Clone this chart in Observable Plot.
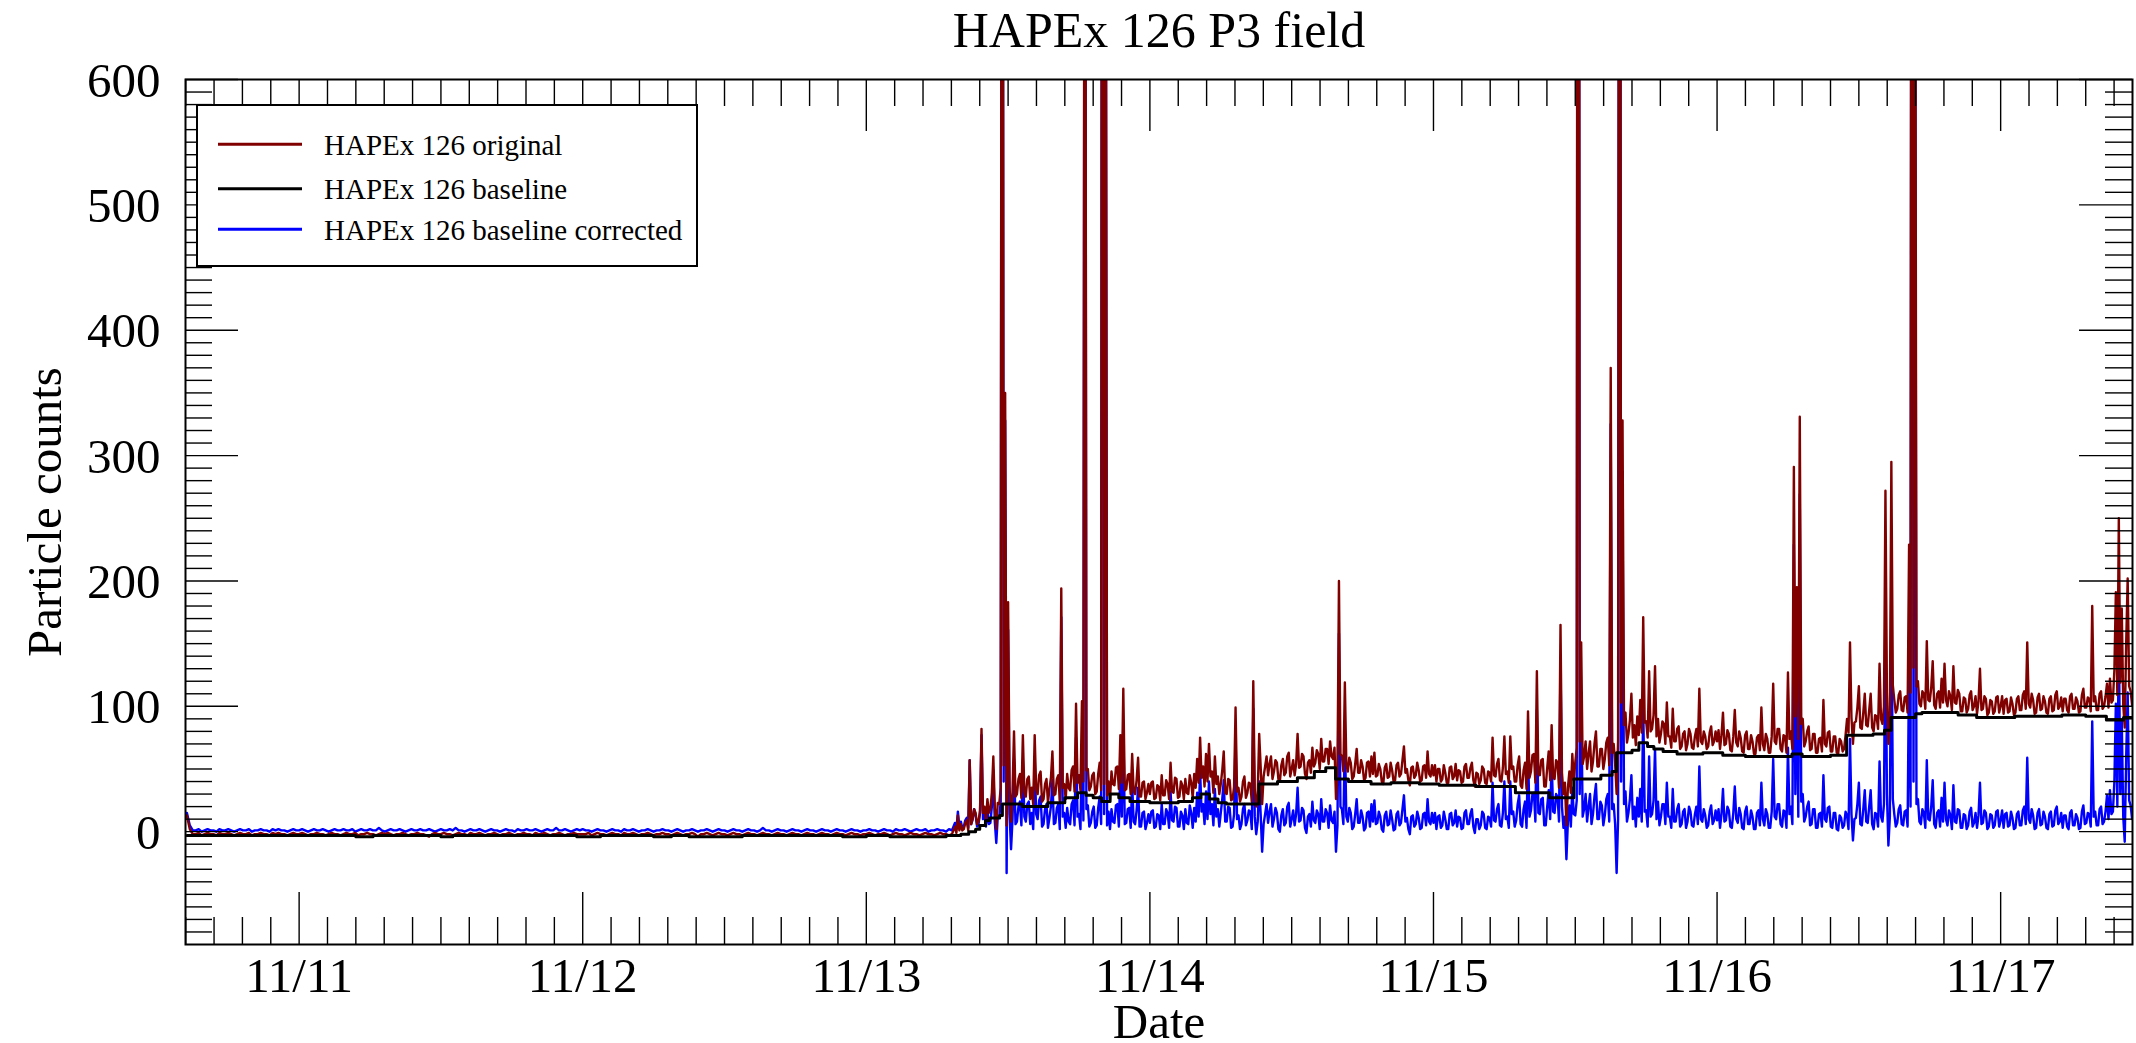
<!DOCTYPE html>
<html>
<head>
<meta charset="utf-8">
<script src="https://cdn.jsdelivr.net/npm/d3@7"></script>
<script src="https://cdn.jsdelivr.net/npm/@observablehq/plot@0.6"></script>
<style>
  html, body { margin: 0; padding: 0; background: #fff; }
  #wrap { position: relative; width: 2136px; height: 1043px; overflow: hidden; }
  #legend { position: absolute; left: 196px; top: 104px; }
</style>
</head>
<body>
<div id="wrap"><div id="chart"></div></div>
<script>
// ---------------- DATA ----------------
// Each segment: start time, sampling step (minutes), values.
const segStarts = [
  "2023-11-10T14:30:00Z", "2023-11-11T00:00:00Z", "2023-11-12T00:00:00Z", "2023-11-13T00:00:00Z",
  "2023-11-13T07:30:00Z", "2023-11-14T00:00:00Z", "2023-11-15T00:00:00Z", "2023-11-16T00:00:00Z",
  "2023-11-17T00:00:00Z"
];
const segStepMinutes = [15, 15, 15, 15, 7.5, 7.5, 7.5, 7.5, 7.5];

// HAPEx 126 original
const original_1110 = [13,2,-2,-2,-1,-3,-2,-1,-2,-2,-3,-1,-2,-2,-1,-2,-3,-2,-1,-2,-2,-1,-3,-2,-2,-1,-2,-2,-3,-1,-2,-1,-2,-2,-3,-2,-1,-2];
const original_1111 = [
  -2,-1,-2,-3,-2,-2,-1,-2, -2,-3,-2,-1,-2,-2,-3,-2, -1,-2,-2,-1,-3,-2,-2,-1, -2,-2,-3,-2,-1,-2,-1,-2,
  -3,-2,-2,-1,-2,-3,-2,-2, -1,-2,-2,-3,-4,-2,-1,-2, -2,-1,-2,-2,-3,-2,-1,-2, -2,-3,-1,-2,-2,-1,-2,-3,
  -2,-2,-1,-2,-3,-2,-2,-1, -2,-3,-2,-2,-1,-2,-2,-3, -1,-2,-2,-1,-2,-3,-2,-2, -1,-2,-3,-2,-2,-1,-2,-2];
const original_1112 = [
  -2,-2,-1,-3,-2,-1,-2,-2, -3,-2,-1,-2,-2,-3,-1,-2, -2,-1,-2,-3,-2,-2,-1,-2, -3,-2,-2,-1,-2,-2,-3,-2,
  -1,-2,-3,-2,-2,-1,-2,-4, -2,-2,-1,-2,-3,-2,-1,-2, -2,-3,-2,-1,-2,-2,-3,-2, -1,-2,-2,-3,-2,-1,-2,-2,
  -3,-2,-1,-2,-2,-3,-2,-1, -2,-2,-3,-2,-1,-2,-2,-3, -2,-1,-2,-2,-3,-2,-1,-2, -2,-3,-2,-1,-2,-2,-3,-2];
const original_1113_night = [
  -2,-1,-2,-3,-2,-2,-1,-2, -3,-2,-1,-2,-2,-3,-2,-1, -2,-2,-3,-2,-1,-2,-2,-3, -2,-1,-2,-2,-3,-2];
const original_1113_day = [
  4,-1, 13,1, 6,1, 2,7, 9,1, 57,6, 10,18, 15,6, 8,17, 82,15,
  20,9, 26,15, 18,31, 60,19, 2,23, 22,35, 1503,53, 350,5, 183,36, 8,32,
  80,28, 30,42, 46,27, 77,32, 28,42, 44,26, 35,22, 77,34, 30,45, 48,24,
  26,38, 42,23, 34,43, 64,29, 30,42, 45,25, 194,35, 38,26, 46,35, 33,49,
  52,32, 102,39, 45,33, 104,40, 1201,49, 50,33, 36,45, 47,30, 32,46, 55,33,
  1804,38, 904,29, 40,26, 48,38, 37,51, 52,34, 77,39, 114,33, 34,45, 46,30,
  62,32, 30,41, 59,28, 28,39, 40,26, 31,38];
const original_1114 = [
  30,39, 40,26, 27,37, 36,25, 45,29, 29,41, 38,26, 55,32, 31,43, 42,27,
  28,40, 37,26, 42,31, 30,45, 39,27, 46,35, 58,39, 75,43, 52,36, 62,40,
  70,44, 48,31, 60,38, 44,30, 38,49, 64,31, 30,42, 41,25, 26,36, 99,32,
  35,24, 28,40, 44,27, 31,39, 38,24, 120,34, 20,30, 78,52, 22,44, 52,60,
  45,54, 60,42, 48,57, 55,42, 40,53, 58,45, 47,60, 63,44, 50,57, 45,54,
  78,51, 52,62, 60,46, 42,55, 57,47, 67,52, 55,65, 62,50, 74,56, 56,66,
  66,54, 72,60, 58,67, 26,47, 200,62, 60,48, 119,54, 48,59, 55,42, 44,54,
  66,47, 47,57, 52,41, 43,55, 56,44, 60,46, 63,44, 45,54, 50,40, 38,51,
  54,43, 44,55, 49,40, 41,53, 55,44, 46,57, 68,47, 50,41, 37,51, 52,43,
  45,55, 49,40, 41,52, 53,43, 64,46, 44,53];
const original_1115 = [
  45,53, 40,50, 50,40, 42,53, 47,39, 39,51, 52,42, 44,54, 41,49, 48,39,
  40,52, 54,43, 43,51, 55,41, 36,47, 46,38, 41,52, 50,39, 38,48, 47,40,
  75,45, 44,54, 58,41, 40,51, 76,46, 48,39, 76,50, 52,40, 40,53, 60,37,
  35,49, 55,34, 96,43, 48,61, 62,39, 128,46, 45,57, 58,36, 36,51, 64,41,
  85,43, 42,57, 55,35, 165,47, 30,39, 5,35, 48,31, 62,41, 55,67, 1992,72,
  151,54, 60,72, 50,62, 72,48, 56,70, 80,52, 52,66, 66,50, 58,71, 75,53,
  370,63, 70,54, 30,73, 1603,103, 328,85, 95,71, 78,89, 110,75, 85,69, 92,77,
  105,79, 171,87, 88,75, 128,80, 82,93, 132,76, 90,71, 78,88, 86,70, 103,76,
  76,67, 98,72, 72,82, 84,66, 68,78, 80,65, 70,82, 78,67, 66,76, 82,68,
  114,72, 70,80, 76,66, 68,79, 84,69, 72,80];
const original_1116 = [
  72,81, 66,77, 95,69, 70,81, 78,65, 64,76, 97,71, 68,80, 75,64, 63,77,
  80,66, 66,77, 72,62, 62,75, 77,65, 99,70, 65,78, 74,63, 63,76, 118,72,
  70,82, 82,66, 64,77, 76,63, 127,74, 80,66, 291,92, 195,74, 331,86, 90,68,
  72,80, 84,65, 66,78, 78,63, 63,74, 75,64, 105,70, 68,79, 80,64, 64,76,
  76,63, 62,74, 72,64, 66,77, 90,79, 151,91, 70,87, 88,99, 116,83, 82,95,
  110,85, 84,97, 110,83, 80,93, 92,82, 134,90, 86,100, 272,111, 70,93, 295,117,
  105,95, 98,109, 112,97, 96,107, 108,95, 229,111, 1691,131, 900,116, 120,102, 100,112,
  110,98, 152,105, 104,115, 136,101, 98,110, 112,99, 122,103, 134,105, 100,112, 108,97,
  132,103, 102,113, 110,96, 96,107, 106,95, 98,109, 112,97, 100,108, 94,104, 130,97,
  98,108, 106,93, 95,105, 104,94, 96,107, 108,95];
const original_1117 = [
  100,108, 94,105, 106,95, 96,107, 102,93, 95,106, 108,97, 97,109, 112,98, 151,102,
  99,110, 105,94, 95,107, 110,97, 98,108, 104,95, 94,106, 108,96, 97,109, 112,98,
  100,107, 96,106, 106,97, 95,108, 110,98, 98,107, 104,95, 96,109, 114,99, 99,107,
  106,96, 180,104, 108,97, 97,110, 112,98, 100,108, 118,99, 122,103, 105,129, 191,109,
  250,119, 178,101, 83,151, 202,116, 112,101];

// HAPEx 126 baseline corrected
const corrected_1110 = [15,5,1,1,2,0,1,2,1,1,0,2,1,1,2,1,0,1,2,1,1,2,0,1,1,2,1,1,0,2,1,2,1,1,0,1,2,1];
const corrected_1111 = [
  1,2,1,0,1,2,1,1, 2,1,0,1,2,1,1,2, 1,1,2,0,1,2,1,1, 2,1,1,3,1,0,1,2,
  1,1,2,1,0,1,2,1, 1,2,1,1,2,1,0,1, 2,1,1,2,1,3,1,1, 0,1,2,1,1,2,1,0,
  1,2,1,1,0,1,2,1, 1,0,2,1,1,2,1,1, 2,1,0,1,2,1,1,3, 1,1,2,1,0,1,2,1];
const corrected_1112 = [
  2,1,1,0,1,2,1,1, 0,1,2,1,1,0,2,1, 1,2,1,0,1,1,2,1, 0,1,1,2,1,1,0,1,
  2,1,0,1,1,2,1,0, 1,1,2,1,0,1,2,1, 1,0,1,2,1,1,0,1, 2,1,1,0,1,3,1,1,
  0,1,2,1,1,0,1,2, 1,1,0,1,2,1,1,0, 1,2,1,1,0,1,2,1, 1,0,1,2,1,1,0,1];
const corrected_1113_night = [
  1,2,1,1,0,1,2,1, 1,0,2,1,1,2,1,0, 1,2,1,1,2,0,1,1, 2,1,1,0,2,1];
const corrected_1113_day = [
  7,2, 16,4, 8,3, 4,9, 11,3, 57,6, 10,18, 13,4, 6,15, 77,10,
  15,4, 17,6, 7,20, 49,8, -9,12, 11,24, 1490,40, 328,-33, 161,14, -14,10,
  58,6, 8,20, 24,5, 57,12, 8,22, 24,6, 15,2, 57,14, 10,25, 28,4,
  6,18, 22,3, 11,20, 41,6, 7,19, 22,2, 171,12, 15,3, 19,8, 6,22,
  25,5, 75,12, 14,2, 73,9, 1170,18, 21,4, 7,16, 20,3, 5,19, 28,6,
  1780,14, 880,5, 16,2, 18,8, 7,21, 22,4, 50,12, 87,6, 7,18, 19,3,
  38,8, 6,17, 35,4, 4,15, 16,2, 7,14];
const corrected_1114 = [
  7,16, 17,3, 4,14, 13,2, 22,6, 6,18, 15,3, 32,9, 8,20, 19,4,
  4,16, 13,2, 18,7, 6,21, 15,3, 19,8, 31,12, 48,16, 22,6, 32,10,
  40,14, 22,5, 34,12, 18,4, 15,26, 41,8, 8,20, 19,3, 4,14, 77,10,
  13,2, 6,18, 22,5, 9,17, 16,2, 98,12, -2,8, 40,14, -16,6, 14,22,
  7,16, 22,4, 10,19, 15,2, 0,13, 18,5, 7,20, 23,4, 10,17, 5,14,
  35,8, 9,19, 17,3, -1,12, 14,4, 24,9, 7,17, 14,2, 26,8, 8,18,
  15,3, 21,9, 7,16, -16,5, 158,20, 18,6, 77,12, 8,19, 15,2, 4,14,
  26,7, 7,17, 12,1, 3,15, 16,4, 22,8, 25,6, 7,16, 12,2, 0,13,
  16,5, 6,17, 10,1, 2,14, 16,5, 7,18, 29,8, 11,2, -2,12, 13,4,
  6,16, 11,2, 3,14, 15,5, 26,8, 6,15];
const corrected_1115 = [
  7,15, 2,12, 13,3, 5,16, 10,2, 2,14, 15,5, 7,17, 4,12, 11,2,
  3,15, 17,6, 6,14, 18,4, -1,10, 10,2, 5,16, 14,3, 2,12, 11,4,
  39,9, 8,18, 22,5, 4,15, 40,10, 12,3, 40,14, 16,4, 9,22, 29,6,
  4,18, 24,3, 65,12, 17,30, 31,8, 97,15, 14,26, 27,5, 5,20, 33,10,
  58,16, 15,30, 28,8, 138,20, 3,12, -22,8, 21,4, 35,14, 13,25, 1950,30,
  109,12, 18,30, 8,20, 30,6, 14,28, 38,10, 10,24, 21,5, 13,26, 30,8,
  325,18, 22,6, -33,10, 1540,40, 265,22, 32,8, 15,26, 45,10, 20,4, 27,12,
  34,8, 100,16, 17,4, 60,12, 14,25, 66,10, 24,5, 12,22, 22,6, 39,12,
  12,3, 34,8, 8,18, 22,4, 6,16, 18,3, 8,20, 16,5, 4,14, 20,6,
  52,10, 8,18, 13,3, 5,16, 21,6, 9,17];
const corrected_1116 = [
  9,18, 3,14, 34,8, 9,20, 17,4, 3,15, 36,10, 7,19, 14,3, 2,16,
  20,6, 6,17, 12,2, 2,15, 17,5, 39,10, 5,18, 14,3, 3,16, 58,12,
  10,22, 22,6, 4,17, 16,3, 67,14, 20,6, 229,30, 133,12, 269,24, 30,8,
  12,20, 24,5, 6,18, 18,3, 3,14, 15,4, 45,10, 8,19, 20,4, 3,15,
  15,2, 1,13, 11,3, 5,16, 13,2, 74,14, -7,10, 11,22, 39,6, 5,18,
  33,8, 7,20, 33,6, 2,15, 14,4, 56,12, 8,22, 191,30, -11,12, 204,26,
  14,4, 7,18, 21,6, 5,16, 17,4, 138,20, 1600,40, 806,22, 26,8, 6,18,
  15,3, 57,10, 9,20, 41,6, 3,15, 17,4, 27,8, 39,10, 5,17, 13,2,
  37,8, 7,18, 17,3, 3,14, 13,2, 5,16, 19,4, 7,15, 3,13, 39,6,
  7,17, 15,2, 4,14, 13,3, 5,16, 17,4];
const corrected_1117 = [
  9,17, 3,14, 15,4, 5,16, 11,2, 3,14, 16,5, 5,17, 20,6, 59,10,
  7,18, 13,2, 3,15, 18,5, 6,16, 12,3, 2,14, 16,4, 5,17, 20,6,
  8,15, 3,13, 13,4, 2,15, 17,5, 5,14, 11,2, 3,16, 21,6, 7,15,
  14,4, 88,12, 16,5, 5,18, 20,6, 8,16, 29,10, 33,14, 16,40, 102,20,
  161,30, 89,12, -8,60, 111,25, 21,10];

// HAPEx 126 baseline (step changes)
const baselineTimes = [
  "2023-11-10T14:30","2023-11-11T04:48","2023-11-11T06:15","2023-11-11T12:00","2023-11-11T13:00",
  "2023-11-11T23:30","2023-11-12T01:30","2023-11-12T06:00","2023-11-12T07:30","2023-11-12T09:00",
  "2023-11-12T13:30","2023-11-12T22:00","2023-11-13T00:00","2023-11-13T02:00","2023-11-13T06:45",
  "2023-11-13T08:00","2023-11-13T08:40","2023-11-13T09:15","2023-11-13T09:36","2023-11-13T10:05",
  "2023-11-13T10:26","2023-11-13T11:17","2023-11-13T11:31","2023-11-13T13:12","2023-11-13T15:22",
  "2023-11-13T16:48","2023-11-13T17:53","2023-11-13T18:36","2023-11-13T19:12","2023-11-13T19:55",
  "2023-11-13T20:38","2023-11-13T21:22","2023-11-13T22:19","2023-11-14T00:00","2023-11-14T02:24",
  "2023-11-14T03:36","2023-11-14T04:19","2023-11-14T05:02","2023-11-14T05:46","2023-11-14T06:29",
  "2023-11-14T09:14","2023-11-14T10:48","2023-11-14T12:29","2023-11-14T13:55","2023-11-14T14:53",
  "2023-11-14T15:43","2023-11-14T16:48","2023-11-14T18:43","2023-11-14T20:24","2023-11-14T22:48",
  "2023-11-15T00:29","2023-11-15T03:36","2023-11-15T06:56","2023-11-15T09:50","2023-11-15T11:53",
  "2023-11-15T14:10","2023-11-15T15:07","2023-11-15T15:29","2023-11-15T16:48","2023-11-15T17:23",
  "2023-11-15T18:07","2023-11-15T18:39","2023-11-15T19:26","2023-11-15T20:37","2023-11-15T22:48",
  "2023-11-16T00:29","2023-11-16T02:24","2023-11-16T06:20","2023-11-16T07:12","2023-11-16T09:36",
  "2023-11-16T10:58","2023-11-16T13:12","2023-11-16T14:10","2023-11-16T14:44","2023-11-16T16:48",
  "2023-11-16T17:20","2023-11-16T20:24","2023-11-16T21:58","2023-11-17T01:12","2023-11-17T05:11",
  "2023-11-17T07:12","2023-11-17T08:57","2023-11-17T10:24","2023-11-17T11:08"
];
const baselineValues = [
  -3,-4,-3,-4,-3,
  -4,-3,-4,-3,-4,
  -3,-4,-3,-4,-3,
  -2,0,2,5,9,
  11,13,22,20,23,
  27,31,29,27,24,
  30,27,24,23,24,
  27,30,26,23,22,
  38,40,43,48,51,
  42,40,38,39,38,
  37,36,31,27,42,
  45,48,63,65,71,
  68,66,64,62,63,
  61,60,62,60,61,
  77,78,81,91,94,
  95,93,91,92,93,
  92,89,91,91
];

const seriesNames = ["HAPEx 126 original", "HAPEx 126 baseline", "HAPEx 126 baseline corrected"];
const seriesColors = ["#800000", "#000000", "#0000ff"];
const yMajorTicks = [0, 100, 200, 300, 400, 500, 600];
const xTickFormat = "%m/%d";

// ---------------- BUILD TABLES ----------------
const originalSegs = [original_1110, original_1111, original_1112, original_1113_night, original_1113_day, original_1114, original_1115, original_1116, original_1117];
const correctedSegs = [corrected_1110, corrected_1111, corrected_1112, corrected_1113_night, corrected_1113_day, corrected_1114, corrected_1115, corrected_1116, corrected_1117];
const rows = [];
segStarts.forEach((s, i) => {
  const t0 = new Date(s).getTime();
  const step = segStepMinutes[i] * 60000;
  const o = originalSegs[i], c = correctedSegs[i];
  if (o.length !== c.length) console.error("length mismatch segment", i, o.length, c.length);
  o.forEach((v, k) => rows.push({date: new Date(t0 + k * step), original: v, corrected: c[k]}));
});
const baseline = baselineTimes.map((t, i) => ({date: new Date(t + ":00Z"), value: baselineValues[i]}));

// ---------------- LAYOUT ----------------
const W = 2136, H = 1043, mL = 185, mR = 4, mT = 79, mB = 99;
const iW = W - mL - mR, iH = H - mT - mB;
const xDomain = [new Date("2023-11-10T14:23:00Z"), new Date("2023-11-17T11:09:30Z")];
const yDomain = [-90, 600];

const majorX = d3.utcDay.range(new Date("2023-11-11T00:00:00Z"), new Date("2023-11-18T00:00:00Z"));
const minorX = [];
for (const d of d3.utcDay.range(new Date("2023-11-10T00:00:00Z"), new Date("2023-11-18T00:00:00Z"))) {
  for (let j = 1; j < 10; j++) {
    const t = new Date(+d + j * 2.4 * 3600e3);
    if (t > xDomain[0] && t < xDomain[1]) minorX.push(t);
  }
}
const minorY = d3.range(-80, 600, 10).filter(v => v % 100 !== 0);

const font = '"Liberation Serif", "Times New Roman", serif';
const tk = {stroke: "black", strokeWidth: 1.4};

const chart = Plot.plot({
  width: W, height: H,
  marginLeft: mL, marginRight: mR, marginTop: mT, marginBottom: mB,
  style: {fontFamily: font, color: "black", background: "white"},
  x: {type: "utc", domain: xDomain},
  y: {domain: yDomain},
  marks: [
    Plot.lineY(rows, {x: "date", y: "corrected", stroke: seriesColors[2], strokeWidth: 2.4, clip: true}),
    Plot.lineY(rows, {x: "date", y: "original", stroke: seriesColors[0], strokeWidth: 2.4, clip: true}),
    Plot.line(baseline, {x: "date", y: "value", curve: "step-after", stroke: seriesColors[1], strokeWidth: 3, clip: true}),
    // inward ticks on all four sides
    Plot.ruleX(minorX, {...tk, insetTop: iH - 27}),
    Plot.ruleX(minorX, {...tk, insetBottom: iH - 27}),
    Plot.ruleX(majorX, {...tk, insetTop: iH - 52}),
    Plot.ruleX(majorX, {...tk, insetBottom: iH - 52}),
    Plot.ruleY(minorY, {...tk, insetRight: iW - 27}),
    Plot.ruleY(minorY, {...tk, insetLeft: iW - 27}),
    Plot.ruleY(yMajorTicks, {...tk, insetRight: iW - 53}),
    Plot.ruleY(yMajorTicks, {...tk, insetLeft: iW - 53}),
    Plot.frame({stroke: "black", strokeWidth: 2}),
    Plot.axisX({anchor: "bottom", ticks: majorX, tickFormat: d3.utcFormat(xTickFormat), tickSize: 0, tickPadding: 13, fontSize: 49, label: null}),
    Plot.axisY({anchor: "left", ticks: yMajorTicks, tickSize: 0, tickPadding: 25, fontSize: 49, dy: 1.5, label: null}),
    Plot.text(["HAPEx 126 P3 field"], {text: d => d, frameAnchor: "top", lineAnchor: "middle", textAnchor: "middle", dy: -49, fontSize: 50}),
    Plot.text(["Particle counts"], {text: d => d, frameAnchor: "left", lineAnchor: "middle", textAnchor: "middle", dx: -140, rotate: -90, fontSize: 49}),
    Plot.text(["Date"], {text: d => d, frameAnchor: "bottom", lineAnchor: "middle", textAnchor: "middle", dy: 78, fontSize: 49})
  ]
});
document.getElementById("chart").appendChild(chart);

// ---------------- LEGEND ----------------
const legendOrder = [0, 1, 2];
const legendY = [40.3, 84.7, 125.3];
const legend = d3.create("svg").attr("id", "legend").attr("width", 504).attr("height", 165)
  .style("font-family", font);
legend.append("rect").attr("x", 1).attr("y", 1).attr("width", 500).attr("height", 161)
  .attr("fill", "white").attr("stroke", "black").attr("stroke-width", 2);
legendOrder.forEach((s, i) => {
  legend.append("line").attr("x1", 22).attr("x2", 106).attr("y1", legendY[i]).attr("y2", legendY[i])
    .attr("stroke", seriesColors[s]).attr("stroke-width", 3);
  legend.append("text").attr("x", 128).attr("y", legendY[i] + 10.5).attr("font-size", 29)
    .attr("fill", "black").text(seriesNames[s]);
});
document.getElementById("wrap").appendChild(legend.node());
</script>
</body>
</html>
